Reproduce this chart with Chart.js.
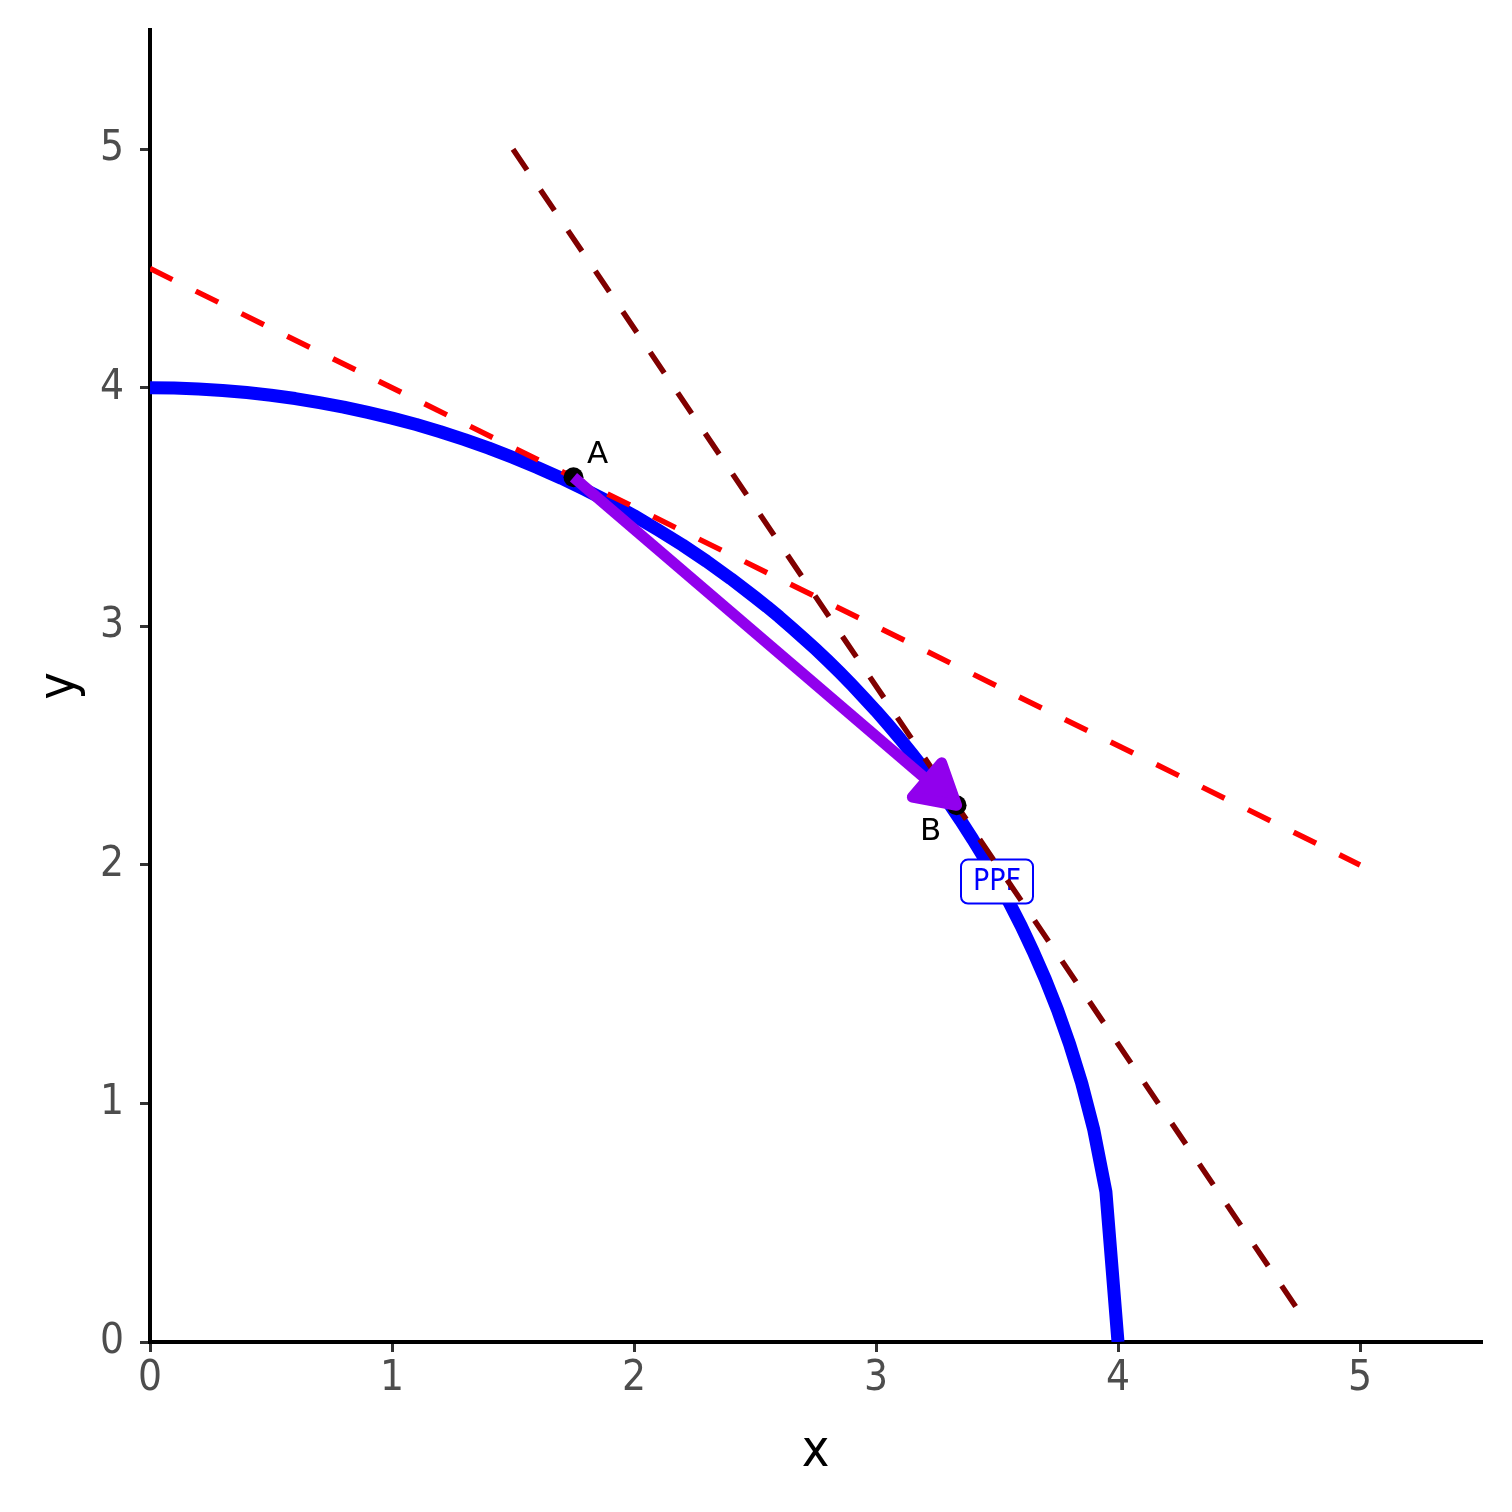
<!DOCTYPE html>
<html lang="en">
<head>
    <meta charset="UTF-8">
    <title>PPF</title>
    <style>
        body { margin: 0; background: white; }
        #wrap { width: 1512px; height: 1512px; }
    </style>
    <script src="https://cdn.jsdelivr.net/npm/chart.js"></script>
</head>
<body>
    <div id="wrap"><canvas id="chart" width="1512" height="1512"></canvas></div>

    <script>
        // PPF curve
        const ppfX = [0, 0.1, 0.2, 0.3, 0.4, 0.5, 0.6, 0.7, 0.8, 0.9, 1.0, 1.1, 1.2, 1.3, 1.4, 1.5, 1.6, 1.7, 1.8, 1.9,
                      2.0, 2.1, 2.2, 2.3, 2.4, 2.5, 2.55, 2.6, 2.65, 2.7, 2.75, 2.8, 2.85, 2.9, 2.95,
                      3.0, 3.05, 3.1, 3.15, 3.2, 3.25, 3.3, 3.35, 3.4, 3.45, 3.5, 3.55, 3.6, 3.65, 3.7, 3.75, 3.8, 3.85, 3.9, 3.95, 4.0];
        const ppfY = [4.000, 3.999, 3.995, 3.989, 3.980, 3.969, 3.955, 3.938, 3.919, 3.897, 3.873, 3.846, 3.816, 3.783, 3.747, 3.708, 3.666, 3.621, 3.572, 3.520,
                      3.464, 3.404, 3.341, 3.273, 3.200, 3.122, 3.082, 3.040, 2.996, 2.951, 2.905, 2.857, 2.807, 2.755, 2.701,
                      2.646, 2.588, 2.528, 2.465, 2.400, 2.332, 2.261, 2.186, 2.107, 2.024, 1.936, 1.843, 1.744, 1.636, 1.520, 1.392, 1.249, 1.085, 0.889, 0.630, 0];

        // two dashed price lines
        const redX = [0, 5];
        const redY = [4.5, 2];
        const darkX = [1.5, 4.75];
        const darkY = [5, 0.125];

        // points A and B
        const ptNames = ["A", "B"];
        const ptX = [1.75, 3.333];
        const ptY = [3.625, 2.25];

        const ppfLabel = "PPF";
        const ppfLabelX = 3.5;
        const ppfLabelY = 1.93;

        const xTicks = [0, 1, 2, 3, 4, 5];
        const yTicks = [0, 1, 2, 3, 4, 5];

        const zip = (xs, ys) => xs.map((x, i) => ({ x: x, y: ys[i] }));

        const tickFont = { family: "'DejaVu Sans Condensed', 'DejaVu Sans', sans-serif", size: 42 };
        const titleFont = { family: "'DejaVu Sans Condensed', 'DejaVu Sans', sans-serif", size: 52 };

        // PPF label box, drawn right after the blue curve so the dashed lines go over it
        const ppfLabelPlugin = {
            id: "ppfLabel",
            afterDatasetDraw(chart, args) {
                if (args.meta.label !== "ppf") return;
                const ctx = chart.ctx;
                const px = chart.scales.x.getPixelForValue(ppfLabelX);
                const py = chart.scales.y.getPixelForValue(ppfLabelY);
                const w = 72, h = 44, r = 7;
                ctx.save();
                ctx.beginPath();
                ctx.roundRect(px - w / 2, py - h / 2, w, h, r);
                ctx.fillStyle = "white";
                ctx.fill();
                ctx.lineWidth = 2;
                ctx.strokeStyle = "#0000ff";
                ctx.stroke();
                ctx.fillStyle = "#0000ff";
                ctx.font = "30px 'DejaVu Sans Condensed', 'DejaVu Sans', sans-serif";
                ctx.textAlign = "center";
                ctx.textBaseline = "middle";
                ctx.fillText(ppfLabel, px, py + 1);
                ctx.restore();
            }
        };

        // arrow A -> B and the point letters
        const arrowPlugin = {
            id: "arrowAB",
            afterDatasetsDraw(chart) {
                const ctx = chart.ctx;
                const xs = chart.scales.x, ys = chart.scales.y;
                const ax = xs.getPixelForValue(ptX[0]), ay = ys.getPixelForValue(ptY[0]);
                const bx = xs.getPixelForValue(ptX[1]), by = ys.getPixelForValue(ptY[1]);
                const ang = Math.atan2(by - ay, bx - ax);
                const len = 45, spread = Math.PI / 6;
                ctx.save();
                ctx.strokeStyle = "#9100ed";
                ctx.fillStyle = "#9100ed";
                ctx.lineWidth = 11;
                ctx.lineCap = "butt";
                ctx.beginPath();
                ctx.moveTo(ax, ay);
                ctx.lineTo(bx - Math.cos(ang) * 20, by - Math.sin(ang) * 20);
                ctx.stroke();
                ctx.lineJoin = "round";
                ctx.beginPath();
                ctx.moveTo(bx, by);
                ctx.lineTo(bx + len * Math.cos(ang + Math.PI + spread), by + len * Math.sin(ang + Math.PI + spread));
                ctx.lineTo(bx + len * Math.cos(ang + Math.PI - spread), by + len * Math.sin(ang + Math.PI - spread));
                ctx.closePath();
                ctx.fill();
                ctx.stroke();

                ctx.fillStyle = "black";
                ctx.font = "31px 'DejaVu Sans', sans-serif";
                ctx.textAlign = "center";
                ctx.textBaseline = "middle";
                ctx.fillText(ptNames[0], ax + 24, ay - 22);
                ctx.fillText(ptNames[1], bx - 26, by + 27);
                ctx.restore();
            }
        };

        const intTicks = (list) => (scale) => { scale.ticks = list.map(v => ({ value: v })); };

        new Chart(document.getElementById("chart"), {
            type: "scatter",
            data: {
                datasets: [
                    { label: "points", data: zip(ptX, ptY), pointRadius: 10, pointBackgroundColor: "black",
                      pointBorderWidth: 0, showLine: false, order: 1 },
                    { label: "dark", data: zip(darkX, darkY), showLine: true, borderColor: "#800000", borderWidth: 5.5,
                      borderDash: [25, 24], pointRadius: 0, order: 2 },
                    { label: "red", data: zip(redX, redY), showLine: true, borderColor: "#ff0000", borderWidth: 5.5,
                      borderDash: [25, 26], pointRadius: 0, order: 3 },
                    { label: "ppf", data: zip(ppfX, ppfY), showLine: true, borderColor: "#0000ff", borderWidth: 13,
                      borderJoinStyle: "round", pointRadius: 0, order: 4 }
                ]
            },
            options: {
                responsive: false,
                animation: false,
                events: [],
                layout: { padding: { top: 30, right: 31, left: 0, bottom: 0 } },
                plugins: { legend: { display: false }, tooltip: { enabled: false } },
                scales: {
                    x: {
                        type: "linear", min: 0, max: 5.5,
                        afterBuildTicks: intTicks(xTicks),
                        afterFit: (s) => { s.height = 170; s.paddingLeft = 0; s.paddingRight = 0; },
                        border: { display: true, color: "black", width: 4 },
                        grid: { drawOnChartArea: false, drawTicks: true, tickLength: 10, color: "#333333", lineWidth: 3 },
                        ticks: { color: "#4d4d4d", font: tickFont, padding: 2, maxRotation: 0 },
                        title: { display: true, text: "x", color: "black", font: titleFont, padding: { top: 0, bottom: 28 } }
                    },
                    y: {
                        type: "linear", min: 0, max: 5.5,
                        afterBuildTicks: intTicks(yTicks),
                        afterFit: (s) => { s.width = 150; s.paddingTop = 0; s.paddingBottom = 0; },
                        border: { display: true, color: "black", width: 4 },
                        grid: { drawOnChartArea: false, drawTicks: true, tickLength: 10, color: "#333333", lineWidth: 3 },
                        ticks: { color: "#4d4d4d", font: tickFont, padding: 16 },
                        title: { display: true, text: "y", color: "black", font: titleFont, padding: { top: 29, bottom: 0 } }
                    }
                }
            },
            plugins: [ppfLabelPlugin, arrowPlugin]
        });
    </script>
</body>
</html>
